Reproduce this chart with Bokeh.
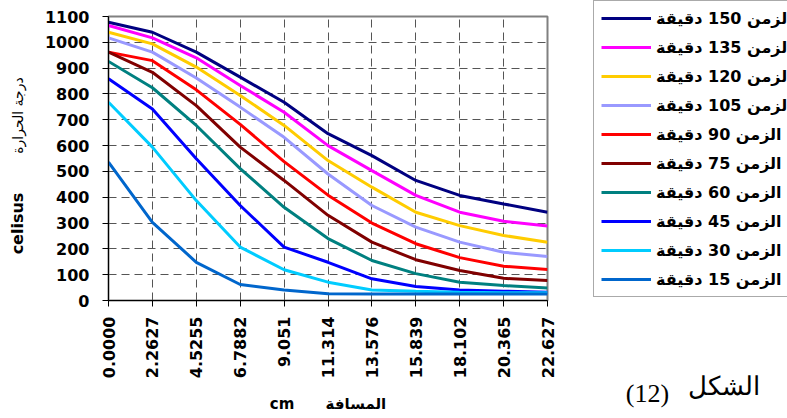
import math
from bokeh.plotting import figure
from bokeh.layouts import row, column
from bokeh.models import Range1d, FixedTicker, Legend, LegendItem, Label
from bokeh.embed import file_html
from bokeh.resources import INLINE

# distance along the sample (cm) and the tick labels shown for it
distance = [0.0, 2.2627, 4.5255, 6.7882, 9.051, 11.314, 13.576, 15.839, 18.102, 20.365, 22.627]
distance_labels = ["0.0000", "2.2627", "4.5255", "6.7882", "9.051", "11.314",
                   "13.576", "15.839", "18.102", "20.365", "22.627"]

# temperature (celsius) profiles at each time step (minutes)
t150 = [1078, 1039, 962, 865, 768, 646, 561, 465, 407, 374, 342]
t135 = [1065, 1017, 940, 833, 729, 600, 503, 407, 342, 307, 289]
t120 = [1039, 994, 904, 794, 678, 542, 439, 342, 290, 252, 226]
t105 = [1017, 962, 862, 749, 632, 490, 368, 284, 226, 187, 170]
t90 = [962, 929, 816, 682, 538, 408, 300, 220, 166, 133, 120]
t75 = [962, 884, 755, 594, 465, 330, 226, 158, 116, 86, 77]
t60 = [926, 824, 678, 511, 361, 240, 155, 104, 71, 58, 48]
t45 = [859, 742, 549, 368, 207, 148, 84, 54, 41, 36, 32]
t30 = [768, 594, 387, 207, 119, 71, 41, 36, 32, 30, 30]
t15 = [536, 303, 148, 62, 41, 26, 25, 25, 25, 25, 25]

times = [150, 135, 120, 105, 90, 75, 60, 45, 30, 15]
profiles = [t150, t135, t120, t105, t90, t75, t60, t45, t30, t15]
colors = ["#000080", "#FF00FF", "#FFCC00", "#9999FF", "#FF0000",
          "#800000", "#008080", "#0000FF", "#00CCFF", "#0066CC"]

y_ticks = list(range(0, 1101, 100))

H = 418
TITLE_W, MAIN_W, SIDE_W = 40, 553, 194
LEFT, RIGHT, TOP, BOTTOM = 108, 547, 16, 300   # plot frame, page pixels
NB = "\u00a0"


def blank_panel(width, **borders):
    f = figure(width=width, height=H, output_backend="svg", toolbar_location=None,
               x_range=Range1d(0, 1), y_range=Range1d(0, 1),
               x_axis_location=None, y_axis_location=None, **borders)
    f.grid.visible = False
    f.outline_line_color = None
    f.background_fill_color = "white"
    f.border_fill_color = "white"
    return f


# ---- y-axis title strip -----------------------------------------------------
yt = blank_panel(TITLE_W, min_border_left=0, min_border_right=0,
                 min_border_top=TOP, min_border_bottom=H - BOTTOM)


def ytitle(txt, cx, cy, size, style):
    yt.add_layout(Label(x=cx, y=BOTTOM - cy, x_units="screen", y_units="screen",
                        text=txt, text_font="DejaVu Sans", text_font_style=style,
                        text_font_size=size, text_color="black", angle=math.pi / 2,
                        text_align="center", text_baseline="middle"))


ytitle("celisus", 17, 223, "16px", "bold")
ytitle("درجة الحرارة", 17, 115, "14px", "normal")

# ---- main chart -------------------------------------------------------------
p = figure(width=MAIN_W, height=H, output_backend="svg", toolbar_location=None,
           x_range=Range1d(0, distance[-1]), y_range=Range1d(0, 1100),
           min_border_left=LEFT - TITLE_W, min_border_right=TITLE_W + MAIN_W - RIGHT,
           min_border_top=TOP, min_border_bottom=H - BOTTOM)
p.background_fill_color = "white"
p.border_fill_color = "white"
p.outline_line_color = "#808080"
p.outline_line_width = 2

for ax in (p.xaxis[0], p.yaxis[0]):
    ax.axis_line_color = "black"
    ax.major_tick_line_color = "black"
    ax.minor_tick_line_color = None
    ax.major_tick_in = 0
    ax.major_tick_out = 6
    ax.major_label_text_font = "DejaVu Sans"
    ax.major_label_text_font_style = "bold"
    ax.major_label_text_font_size = "16px"
    ax.major_label_text_color = "black"

p.xaxis.ticker = FixedTicker(ticks=distance)
p.xaxis.major_label_overrides = {d: s for d, s in zip(distance, distance_labels)}
p.xaxis.major_label_orientation = math.pi / 2
p.xaxis.major_label_standoff = 10
p.xaxis.axis_label = "cm" + NB * 6 + "المسافة"
p.xaxis.axis_label_text_font = "DejaVu Sans"
p.xaxis.axis_label_text_font_style = "bold"
p.xaxis.axis_label_text_font_size = "15px"
p.xaxis.axis_label_text_color = "black"
p.xaxis.axis_label_standoff = 14

p.yaxis.ticker = FixedTicker(ticks=y_ticks)
p.yaxis.major_label_standoff = 13

for g in (p.xgrid[0], p.ygrid[0]):
    g.grid_line_color = "#555555"
    g.grid_line_dash = "8 5"
    g.grid_line_width = 1
p.xgrid.ticker = FixedTicker(ticks=distance)
p.ygrid.ticker = FixedTicker(ticks=y_ticks)

for prof, c in zip(profiles, colors):
    p.line(distance, prof, line_color=c, line_width=3)

# ---- side panel: legend and figure caption ----------------------------------
s = blank_panel(SIDE_W, min_border=0)
s.x_range = Range1d(100, 200)   # keeps the legend's source lines out of view

items = []
for t, prof, c in zip(times, profiles, colors):
    r = s.line(distance, prof, line_color=c, line_width=3)
    items.append(LegendItem(label="الزمن %d دقيقة" % t, renderers=[r]))

SX0 = TITLE_W + MAIN_W   # page x of the side panel
legend = Legend(items=items, location=(0, H - 297),
                orientation="vertical", click_policy="none",
                glyph_width=50, glyph_height=20, label_height=20,
                label_standoff=5, spacing=9, padding=7, margin=0,
                label_text_font="DejaVu Sans", label_text_font_style="bold",
                label_text_font_size="16px", label_text_color="black",
                border_line_color="#555555", border_line_width=1,
                background_fill_color="white", background_fill_alpha=1.0)
s.add_layout(legend)


def caption(txt, cx, cy, size):
    s.add_layout(Label(x=cx - SX0, y=H - cy, x_units="screen", y_units="screen",
                       text=txt, text_font="Liberation Serif", text_font_style="normal",
                       text_font_size=size, text_color="black",
                       text_align="center", text_baseline="middle"))


caption("(12)", 647, 393, "26px")
caption("الشكل", 723, 386, "26px")

layout = row(column(yt), p, column(s), spacing=0)
open("out.html", "w").write(file_html(layout, INLINE))
